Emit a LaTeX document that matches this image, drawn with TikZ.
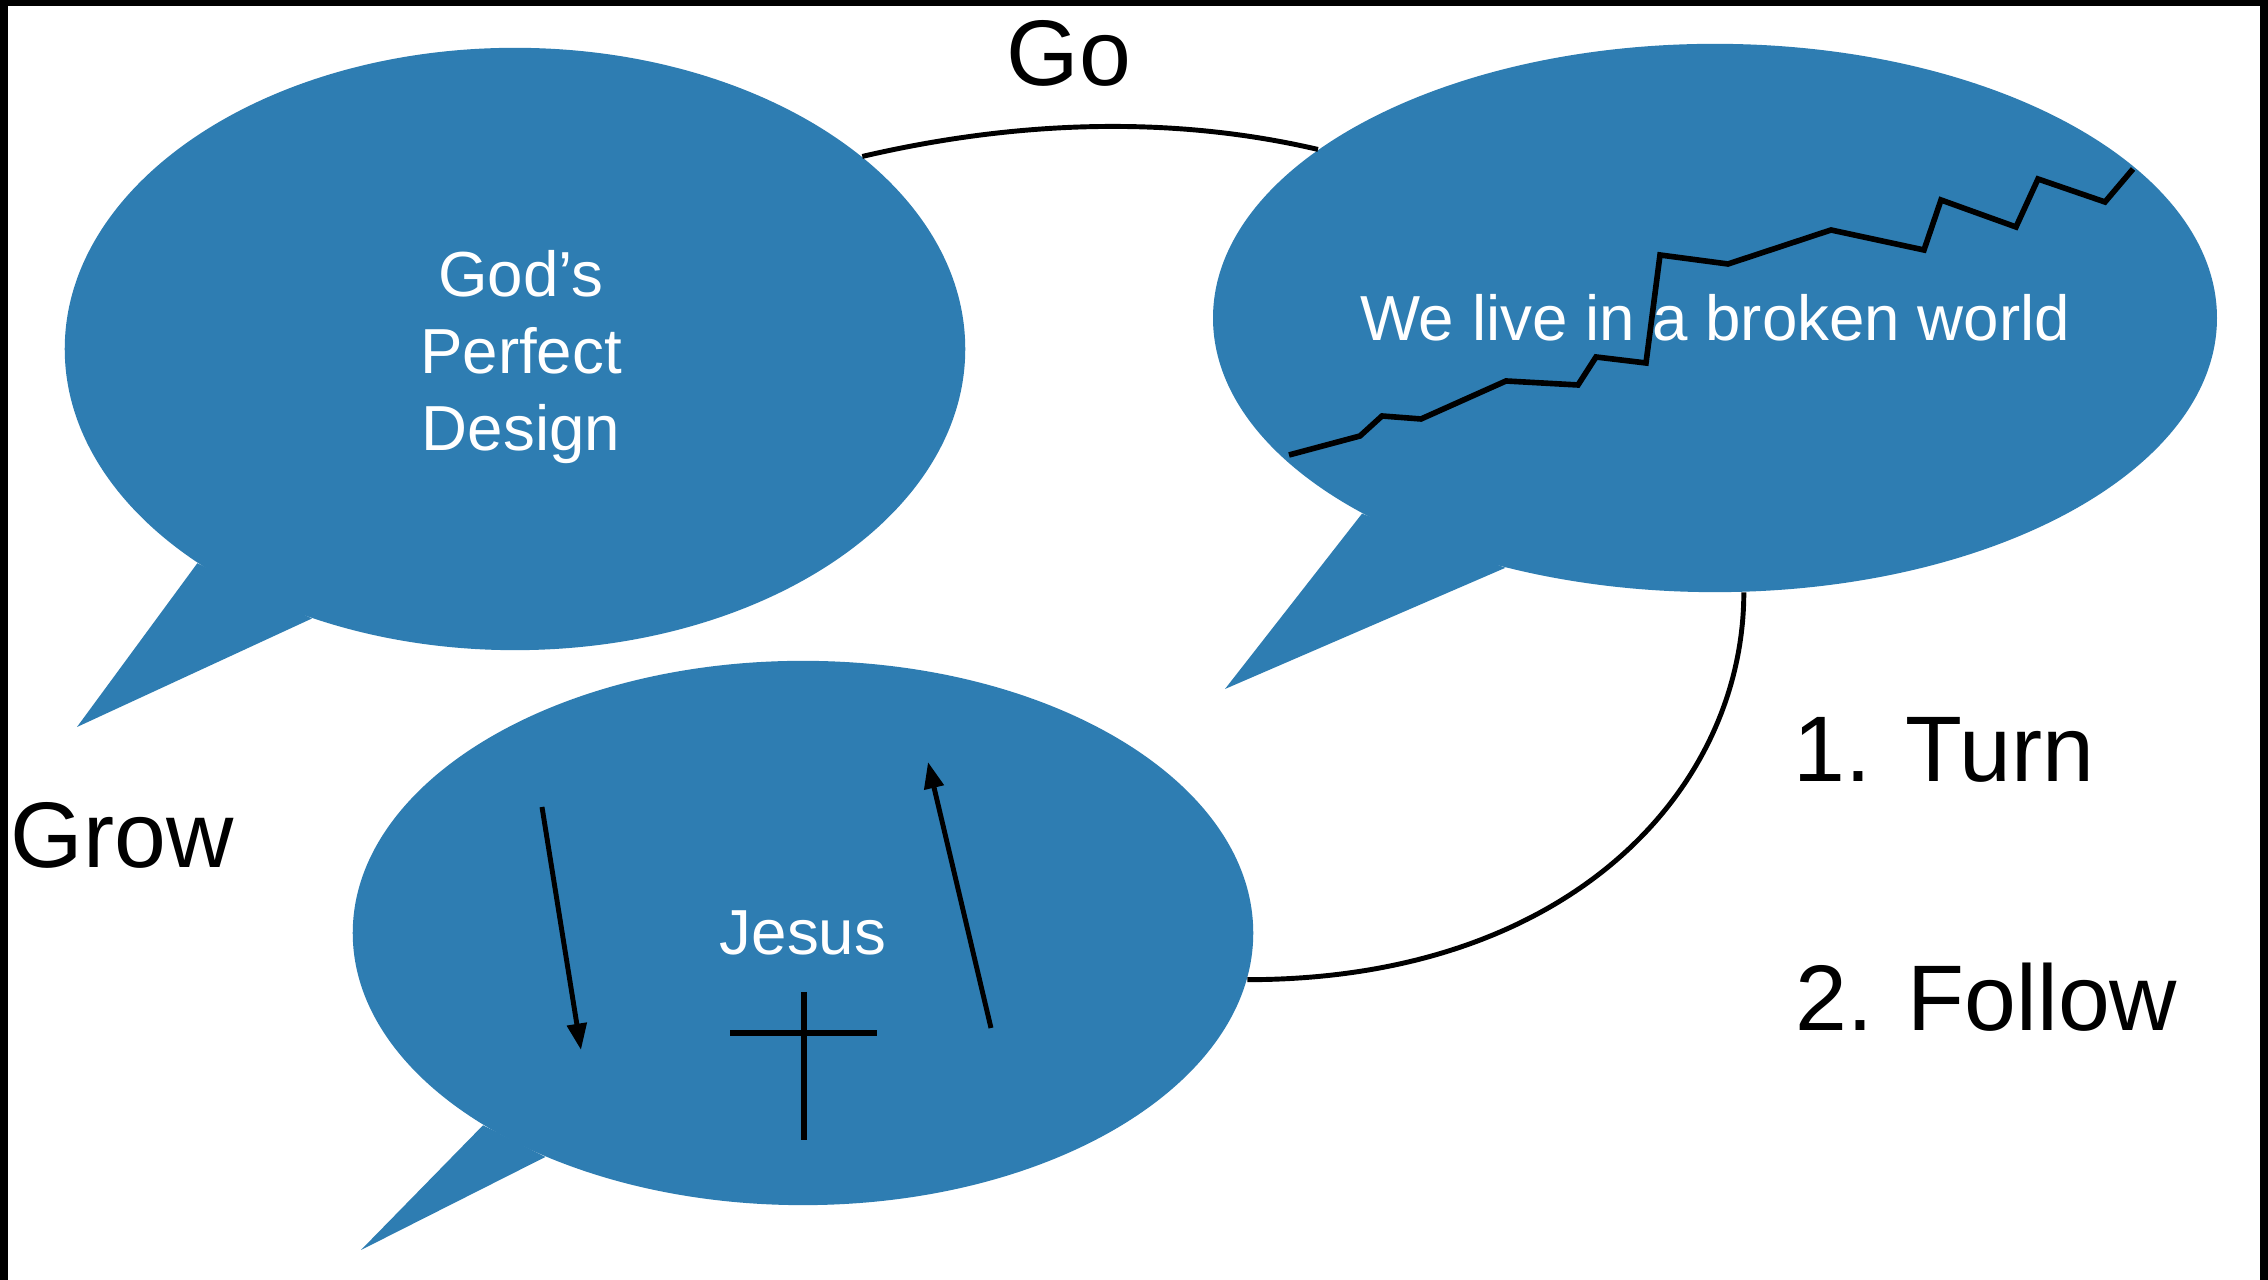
\documentclass[tikz,border=0pt]{standalone}
\usepackage{fontspec}
\setmainfont{Liberation Sans}
\usetikzlibrary{shapes.geometric,arrows.meta}
\definecolor{bubbleblue}{RGB}{46,125,178}
\pgfdeclarelayer{shadowlayer}
\pgfsetlayers{shadowlayer,main}
\begin{document}
\begin{tikzpicture}[x=0.01cm,y=-0.01cm,
  bubble/.style={ellipse, fill=bubbleblue, inner sep=0pt, text=white,
    font=\fontsize{18.1}{21.9}\selectfont, align=center},
  bubbletext/.style={inner sep=0pt, text=white,
    font=\fontsize{18.1}{21.9}\selectfont, align=center},
  tail/.style={fill=bubbleblue},
  shadowfill/.style={fill=black, opacity=0.12},
  link/.style={draw=black, line width=1.4pt},
  mark line/.style={draw=black, line width=1.6pt},
  arrowline/.style={draw=black, line width=1.4pt, -{Triangle[length=7.5pt,width=5.5pt]}},
  biglabel/.style={font=\fontsize{26.5}{30}\selectfont, inner sep=0pt, text=black}
]
\useasboundingbox (0,0) rectangle (2268,1280);
\fill[black] (0,0) rectangle (2268,1280);
\fill[white] (8,6) rectangle (2260,1280);

% bubbles
\node[bubble, minimum width=9cm, minimum height=6.02cm] (b1) at (515,349) {};
\node[bubbletext] (b1text) at (521,357) {God’s\\Perfect\\Design};
\node[bubble, minimum width=9.94cm, minimum height=5.48cm] (b2) at (1715,318) {We live in a broken world};
\node[bubble, minimum width=9cm, minimum height=5.44cm] (b3) at (803,933) {Jesus};

% tails
\coordinate (t1) at (77,727);
\coordinate (t2) at (1225,689);
\coordinate (t3) at (361,1250);
\fill[tail] (t1) -- (b1.214) -- (b1.233) -- cycle;
\fill[tail] (t2) -- (b2.209) -- (b2.230) -- cycle;
\fill[tail] (t3) -- (b3.211) -- (b3.221) -- cycle;

% soft shadows
\begin{pgfonlayer}{shadowlayer}
  \foreach \s in {2,4,6} {
    \fill[shadowfill] (515,349+\s) ellipse [x radius=450, y radius=301];
    \fill[shadowfill] (77,727+\s) -- (198,562+\s) -- (312,618+\s) -- cycle;
    \fill[shadowfill] (1715,318+\s) ellipse [x radius=497, y radius=274];
    \fill[shadowfill] (1225,689+\s) -- (1364,510+\s) -- (1503,572+\s) -- cycle;
    \fill[shadowfill] (803,933+\s) ellipse [x radius=450, y radius=272];
    \fill[shadowfill] (361,1250+\s) -- (485,1126+\s) -- (546,1160+\s) -- cycle;
  }
\end{pgfonlayer}

% broken line
\draw[mark line, line join=miter] (1289,455) -- (1360,436) -- (1382,416) -- (1421,419) -- (1506,381)
  -- (1578,385) -- (1596,357) -- (1646,363) -- (1660,255) -- (1728,264) -- (1831,230)
  -- (1924,250) -- (1941,200) -- (2016,227) -- (2038,179) -- (2105,202) -- (2133,169);

% arrows and cross in Jesus bubble
\draw[arrowline] (542,807) -- (581,1050);
\draw[arrowline] (991,1028) -- (928,762);
\draw[mark line] (730,1033) -- (877,1033);
\draw[mark line] (804,992) -- (804,1140);

% connectors
\draw[link] (b1.29) .. controls +(150,-35) and +(-150,-35) .. (b2.157);
\draw[link] (b2.-84) .. controls +(0,195) and +(325,0) .. (b3.-6);

% labels
\node[biglabel, anchor=base] (go) at (1069,86) {Go};
\node[biglabel, anchor=base west] (grow) at (10,868) {Grow};
\node[biglabel, anchor=base west] (turn) at (1793,782) {1. Turn};
\node[biglabel, anchor=base west] (follow) at (1795,1031) {2. Follow};
\end{tikzpicture}
\end{document}
